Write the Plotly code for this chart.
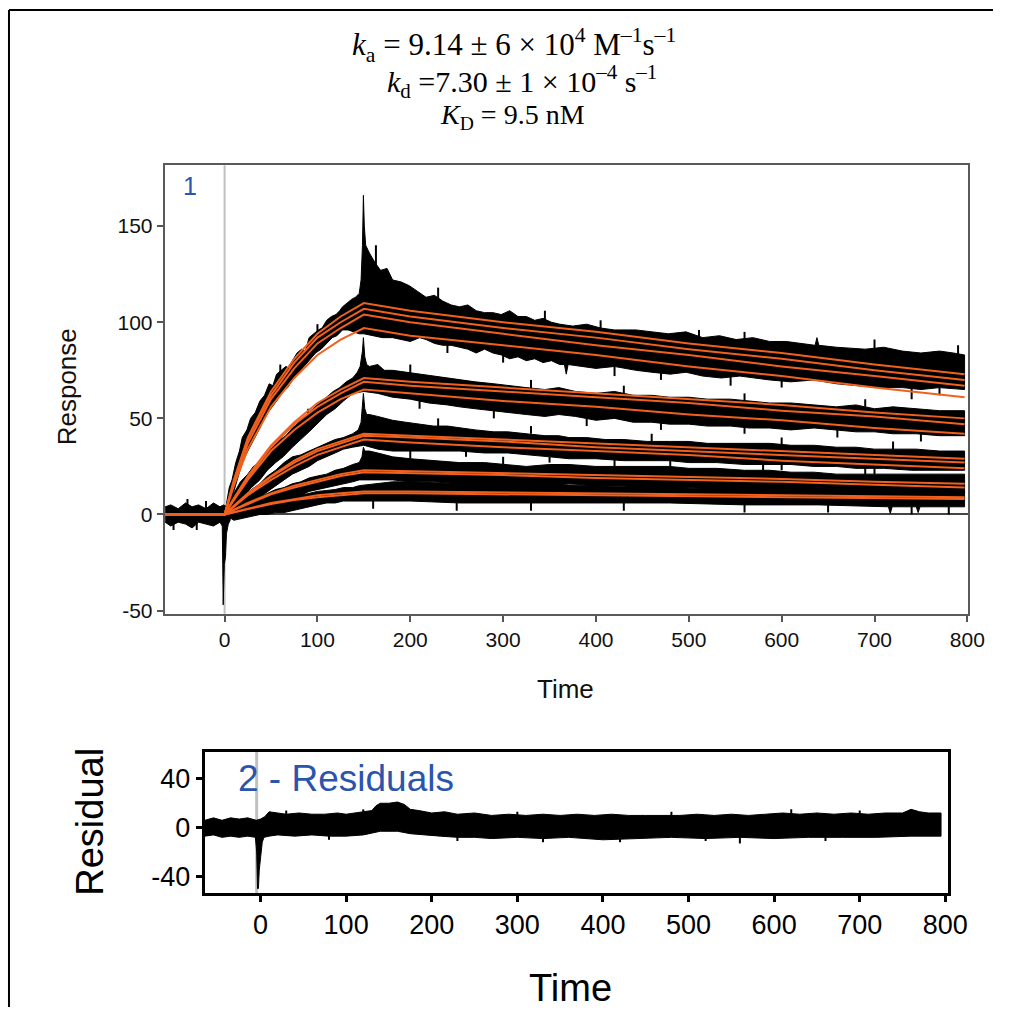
import plotly.graph_objects as go

# positions are given in pixels of the 1013 x 1015 picture and turned into paper fractions
# (the photographed area is slightly larger than the page, so positions are stretched a bit)
W, H = 1013, 1015
SX, SY = 1 / 0.982, 1 / 0.991
def px(x): return min(1.0, x * SX / W)
def py(y): return max(0.0, 1 - y * SY / H)

# ---------------- data ----------------
fit_time = [-64, 0, 10, 25, 50, 75, 100, 125, 150, 200, 300, 400, 500, 600, 700, 797]
fit_A1 = [0, 0, 18, 40, 64, 81, 94, 103, 110, 106, 100, 95, 89, 84, 78, 73]
fit_A2 = [0, 0, 17, 39, 62, 79, 92, 100, 107, 103, 97, 92, 86, 81, 75, 70]
fit_A3 = [0, 0, 16, 37, 60, 76, 89, 97, 104, 100, 94, 88, 83, 77, 72, 67]
fit_A4 = [0, 0, 15, 34, 56, 71, 83, 91, 97, 93, 88, 83, 77, 72, 66, 61]
fit_B1 = [0, 0, 8.5, 20, 36, 48, 58, 65, 71, 69, 66, 63, 60, 57, 53, 50]
fit_B2 = [0, 0, 8, 19, 35, 47, 56, 63, 69, 67, 64, 61, 58, 54, 51, 47]
fit_B3 = [0, 0, 7.5, 18, 33, 44, 53, 60, 65, 63, 59, 56, 52, 49, 45, 42]
fit_C1 = [0, 0, 4.5, 11, 20, 28, 34, 38, 42, 41, 39, 37, 35, 33, 31, 29]
fit_C2 = [0, 0, 4.3, 10.5, 19.5, 27, 33, 37, 41, 40, 38, 35, 33, 31, 29, 27]
fit_C3 = [0, 0, 4, 10, 18, 25, 31, 35, 39, 37.5, 35, 33, 31, 28, 26, 24]
fit_D1 = [0, 0, 2.5, 6, 11, 15, 18, 21, 23, 22.5, 21.5, 20.5, 19.5, 18.5, 17, 16]
fit_D2 = [0, 0, 2.3, 5.5, 10.5, 14, 17, 20, 22, 21.5, 20.5, 19, 18, 17, 15.5, 14]
fit_E1 = [0, 0, 1.2, 3, 6, 8, 10, 11, 12, 12, 11.5, 11, 10.5, 10, 9.5, 9]
fit_E2 = [0, 0, 1.1, 2.8, 5.5, 7.5, 9, 10, 11, 11, 10.5, 10, 9.5, 9, 8.5, 8]
fits = [fit_A1, fit_A2, fit_A3, fit_A4, fit_B1, fit_B2, fit_B3,
        fit_C1, fit_C2, fit_C3, fit_D1, fit_D2, fit_E1, fit_E2]

# envelopes of the noisy measured traces (time, response)
baseline_upper = [(-64, 4), (-58, 5), (-50, 3), (-42, 6), (-35, 4), (-28, 5), (-20, 3), (-12, 6),
                  (-5, 4), (-1, 5), (2, 4), (6, 3)]
baseline_lower = [(-64, -4), (-58, -6), (-50, -4), (-42, -5), (-35, -7), (-28, -4), (-20, -5),
                  (-12, -6), (-5, -4), (-2.5, -6), (-2, -26), (-1.5, -47), (-0.8, -47), (-0.3, -26),
                  (1, -22), (2, -10), (4, -5), (6, -3)]

A_upper = [(0, 0), (3, 10), (5, 14), (8, 18), (12, 27), (16, 33), (19, 40), (24, 44), (28, 50), (33, 53),
           (38, 59), (43, 62), (48, 68), (52, 67), (56, 73), (61, 75), (66, 77), (70, 76), (73, 80),
           (78, 84), (83, 86), (87, 85), (91, 92), (96, 94), (101, 96), (105, 97), (110, 101), (115, 103),
           (120, 104), (124, 106), (127, 108), (132, 110), (137, 112), (141, 113), (145, 115), (147, 122),
           (148.5, 140), (149.5, 166), (150.5, 150), (152, 140), (156, 136), (162, 131), (168, 127),
           (175, 128), (181, 122), (190, 121), (199, 119), (208, 116), (217, 113), (226, 114), (235, 111),
           (244, 109), (253, 108), (262, 109), (271, 106), (280, 105), (289, 105), (298, 104), (307, 106),
           (316, 103), (325, 103), (334, 101), (343, 102), (352, 100), (361, 99), (375, 98), (390, 99),
           (405, 97), (420, 96), (443, 96), (460, 95), (478, 94), (497, 95), (515, 92), (533, 93),
           (551, 91), (569, 92), (587, 90), (605, 90), (623, 89), (636, 88), (638, 92), (640, 88),
           (659, 87), (690, 86), (710, 87), (730, 85), (750, 84), (770, 85), (785, 84), (797, 83)]
A_lower = [(0, 0), (5, 4), (10, 12), (15, 20), (19, 27), (25, 33), (30, 38), (38, 45), (45, 52), (50, 55),
           (56, 59), (63, 64), (68, 66), (73, 70), (80, 74), (86, 77), (91, 80), (98, 84), (104, 86),
           (110, 89), (116, 92), (121, 93), (127, 96), (133, 96), (139, 95), (145, 94), (150, 94),
           (160, 93), (170, 92), (181, 92), (190, 91), (200, 90), (210, 92), (217, 91), (226, 89),
           (235, 88), (244, 88), (253, 87), (262, 86), (271, 84), (280, 86), (289, 84), (298, 83),
           (307, 81), (316, 82), (325, 80), (334, 81), (343, 79), (352, 80), (361, 78), (366, 78),
           (368, 73), (370, 78), (385, 77), (400, 76), (420, 77), (443, 75), (460, 74), (480, 73),
           (497, 74), (515, 72), (535, 71), (555, 72), (570, 71), (587, 70), (610, 69), (635, 70),
           (659, 68), (680, 67), (705, 66), (730, 66), (750, 65), (770, 66), (797, 65)]

B_upper = [(0, 0), (5, 7), (10, 11), (17, 17), (25, 21), (31, 25), (38, 27), (45, 32), (52, 35), (60, 39),
           (66, 41), (73, 45), (80, 48), (87, 51), (95, 55), (102, 58), (110, 61), (117, 64), (124, 66),
           (131, 69), (138, 71), (143, 74), (146, 77), (148.5, 85), (149.5, 92), (151, 82), (153, 78),
           (156, 77), (165, 78), (172, 75), (181, 75), (195, 74), (210, 73), (225, 72), (240, 71),
           (253, 70), (270, 69), (290, 68), (305, 67), (325, 66), (345, 65), (360, 66), (378, 64),
           (400, 63), (420, 64), (440, 62), (460, 62), (479, 61), (500, 61), (520, 60), (545, 60),
           (565, 59), (587, 58), (610, 58), (635, 57), (659, 56), (680, 57), (700, 55), (720, 56),
           (745, 55), (770, 54), (797, 54)]
B_lower = [(0, 0), (5, 0), (12, 6), (20, 10), (29, 14), (38, 18), (46, 23), (55, 27), (63, 30), (73, 35),
           (82, 39), (91, 43), (100, 47), (110, 52), (119, 55), (128, 59), (138, 63), (150, 64),
           (165, 63), (181, 61), (200, 60), (220, 58), (240, 57), (253, 56), (270, 55), (290, 54),
           (305, 53), (325, 52), (345, 51), (360, 52), (378, 51), (400, 49), (420, 50), (440, 48),
           (460, 48), (479, 47), (500, 47), (520, 46), (545, 46), (565, 45), (587, 45), (610, 44),
           (635, 45), (659, 44), (680, 43), (700, 43), (720, 42), (745, 42), (770, 41), (797, 41)]

C_upper = [(0, 0), (5, 4), (12, 7), (20, 10), (29, 13), (38, 16), (46, 20), (55, 23), (64, 27), (73, 30),
           (82, 31), (91, 33), (100, 35), (110, 37), (119, 39), (128, 40), (138, 42), (144, 44),
           (147, 48), (149.5, 63), (151, 55), (153, 52), (156, 52), (165, 51), (172, 50), (181, 49),
           (195, 48), (210, 47), (225, 46), (240, 46), (253, 45), (270, 44), (290, 43), (305, 43),
           (325, 42), (345, 41), (360, 41), (371, 40), (390, 40), (410, 39), (430, 39), (455, 38),
           (479, 38), (500, 38), (520, 37), (545, 37), (565, 37), (587, 37), (610, 36), (635, 36),
           (659, 35), (680, 35), (700, 34), (720, 34), (745, 34), (770, 33), (797, 33)]
C_lower = [(0, 0), (5, 0), (12, 2), (20, 4), (29, 6), (38, 9), (46, 12), (55, 15), (64, 18), (73, 21),
           (82, 23), (91, 25), (100, 28), (110, 30), (119, 32), (128, 34), (138, 35), (150, 36),
           (165, 34), (181, 33), (200, 33), (225, 33), (253, 33), (280, 32), (305, 32), (325, 31),
           (350, 30), (371, 29), (400, 29), (430, 28), (455, 28), (479, 28), (500, 27), (530, 27),
           (560, 26), (587, 26), (610, 26), (635, 25), (659, 25), (680, 24), (710, 24), (740, 23),
           (770, 23), (797, 23)]

D_upper = [(0, 0), (10, 3), (20, 5), (29, 7), (38, 9), (46, 11), (55, 13), (64, 14), (73, 16), (82, 17),
           (91, 19), (100, 20), (110, 21), (119, 23), (128, 24), (138, 26), (145, 27), (148, 30),
           (149.5, 35), (151, 33), (156, 33), (165, 32), (181, 30), (200, 29), (225, 28), (253, 27),
           (280, 27), (305, 26), (325, 25), (350, 26), (371, 26), (400, 25), (430, 25), (455, 25),
           (479, 25), (500, 24), (530, 24), (560, 23), (587, 23), (610, 22), (635, 22), (659, 21),
           (680, 21), (710, 21), (740, 21), (770, 21), (797, 21)]
D_lower = [(0, 0), (10, 0), (20, 1), (29, 2), (38, 4), (46, 5), (55, 7), (64, 8), (73, 9), (82, 10),
           (91, 12), (100, 13), (110, 14), (119, 15), (128, 16), (138, 17), (145, 18), (165, 18),
           (181, 18), (200, 17), (225, 17), (253, 16), (280, 15), (305, 15), (325, 14), (350, 15),
           (371, 16), (400, 15), (430, 15), (455, 14), (479, 14), (500, 14), (530, 13), (560, 13),
           (587, 12.5), (610, 13), (635, 12.5), (659, 12.5), (680, 12), (710, 12), (740, 11.5),
           (770, 11), (797, 11)]

E_upper = [(0, 0), (10, 1.5), (20, 3), (29, 4), (38, 5), (46, 6), (55, 7), (64, 8), (73, 9), (82, 10),
           (91, 11), (100, 12), (110, 12.5), (119, 13), (128, 14), (138, 14), (145, 15), (165, 16),
           (181, 17), (200, 17), (253, 16), (300, 16), (325, 16), (400, 15), (479, 14), (560, 13),
           (640, 13), (720, 12), (797, 12)]
E_lower = [(0, 0), (10, -3), (20, -2), (29, -1), (38, 0), (46, 0), (55, 1), (64, 1), (73, 2), (82, 3),
           (91, 4), (100, 5), (110, 6), (119, 6), (128, 7), (138, 7), (145, 7), (165, 7), (181, 7),
           (200, 7), (253, 6), (300, 6), (325, 6), (400, 6), (479, 6), (560, 5), (640, 5), (715, 4),
           (717, 0.5), (719, 4), (745, 4), (747, 1), (749, 4), (797, 4)]

# noise outliers sticking out of the bands: (time, low, high)
sensor_spikes = [(-55, -8, -4), (-40, 4, 8), (-30, -8, -4), (-20, 3, 7), (60, 72, 78), (90, 50, 55),
                 (100, 94, 99), (163, 128, 140), (230, 112, 118), (345, 100, 106), (405, 96, 101),
                 (511, 91, 96), (560, 90, 95), (700, 86, 91), (790, 82, 88),
                 (240, 84, 89), (300, 79, 84), (420, 72, 77), (470, 70, 74), (545, 67, 72),
                 (600, 66, 70), (740, 60, 66), (770, 62, 66),
                 (200, 73, 78), (330, 65, 70), (430, 62, 67), (560, 59, 63), (690, 56, 60),
                 (210, 55, 60), (290, 50, 54), (390, 46, 50), (470, 44, 48), (560, 42, 46),
                 (660, 40, 44), (750, 38, 42),
                 (230, 45, 50), (330, 42, 46), (460, 38, 42), (600, 36, 40), (720, 34, 38),
                 (260, 30, 33), (350, 27, 30), (480, 25, 28), (600, 23, 26), (700, 21, 24),
                 (200, 29, 33), (300, 26, 30), (420, 25, 29), (580, 23, 27), (690, 21, 25),
                 (160, 3, 7), (250, 2, 6), (330, 2, 6), (430, 2, 6), (560, 1, 5), (650, 1, 5),
                 (740, 0, 4), (780, 0, 4)]

resid_upper = [(-65, 6), (-55, 8), (-45, 6), (-35, 8), (-25, 7), (-15, 8), (-5, 6), (0, 7), (5, 9),
               (10, 13), (20, 12), (30, 11), (45, 12), (60, 11), (75, 11), (90, 12), (100, 11),
               (110, 12), (120, 13), (130, 14), (135, 18), (140, 20), (150, 20), (160, 21), (168, 19),
               (175, 15), (185, 14), (200, 12), (215, 13), (230, 11), (250, 12), (270, 10), (290, 11),
               (310, 10), (330, 11), (350, 10), (370, 11), (390, 10), (410, 11), (430, 10), (450, 10),
               (470, 10), (490, 10), (510, 11), (530, 10), (550, 11), (570, 10), (590, 11), (610, 12),
               (630, 11), (650, 12), (670, 11), (690, 12), (710, 11), (730, 12), (750, 12), (760, 15),
               (770, 13), (780, 12), (795, 12)]
resid_lower = [(-65, -7), (-55, -6), (-45, -8), (-35, -7), (-25, -8), (-15, -7), (-6, -8), (-4.5, -20),
               (-3.5, -50), (-2.5, -50), (-1.5, -35), (0, -25), (1, -20), (2, -12), (4, -8), (10, -7),
               (20, -6), (40, -7), (60, -6), (80, -7), (100, -7), (120, -6), (140, -3), (160, -3),
               (175, -5), (190, -6), (210, -7), (230, -8), (250, -8), (270, -9), (300, -8), (330, -9),
               (360, -8), (400, -10), (440, -9), (480, -8), (520, -9), (560, -8), (600, -9), (640, -8),
               (680, -8), (720, -8), (760, -7), (795, -7)]
resid_spikes = [(30, 10, 14), (120, 12, 15), (300, 10, 13), (480, 10, 13), (620, 11, 15), (700, 11, 14),
                (80, -10, -6), (230, -11, -7), (330, -12, -8), (420, -12, -9), (520, -11, -8),
                (560, -13, -8), (660, -11, -8)]

main_xticks = [0, 100, 200, 300, 400, 500, 600, 700, 800]
main_yticks = [-50, 0, 50, 100, 150]
main_ytext = ["-50", "0", "50", "100", "150"]
resid_yticks = [-40, 0, 40]
resid_ytext = ["-40", "0", "40"]

ORANGE = "#F0601E"
BLUE = "#2B55AC"

fig = go.Figure()

def band(upper, lower, xa="x", ya="y"):
    x = [p[0] for p in upper] + [p[0] for p in lower][::-1]
    y = [p[1] for p in upper] + [p[1] for p in lower][::-1]
    fig.add_trace(go.Scatter(x=x, y=y, mode="lines", fill="toself", fillcolor="black",
                             line=dict(color="black", width=1), xaxis=xa, yaxis=ya,
                             hoverinfo="skip", showlegend=False))

def spikes(items, xa="x", ya="y"):
    x, y = [], []
    for t, lo, hi in items:
        x += [t, t, None]
        y += [lo, hi, None]
    fig.add_trace(go.Scatter(x=x, y=y, mode="lines", line=dict(color="black", width=2),
                             xaxis=xa, yaxis=ya, hoverinfo="skip", showlegend=False))

band(baseline_upper, baseline_lower)
band(A_upper, A_lower)
band(B_upper, B_lower)
band(C_upper, C_lower)
band(D_upper, D_lower)
band(E_upper, E_lower)
spikes(sensor_spikes)

for f in fits:
    fig.add_trace(go.Scatter(x=fit_time, y=f, mode="lines", line=dict(color=ORANGE, width=2),
                             hoverinfo="skip", showlegend=False))

band(resid_upper, resid_lower, "x2", "y2")
spikes(resid_spikes, "x2", "y2")

# ---------------- layout ----------------
main_x0, main_x1, main_y0, main_y1 = 165, 970, 165, 613
res_x0, res_x1, res_y0, res_y1 = 205, 950, 751, 892

tickfont_main = dict(family="Liberation Sans, Arial, sans-serif", size=21, color="#111")
tickfont_res = dict(family="Liberation Sans, Arial, sans-serif", size=27, color="#000")

fig.update_layout(
    autosize=True, margin=dict(l=0, r=0, t=0, b=0),
    paper_bgcolor="white", plot_bgcolor="white", showlegend=False,
    xaxis=dict(domain=[px(main_x0), px(main_x1)], range=[-64.5, 801], anchor="y",
               tickvals=main_xticks, ticks="outside", ticklen=6, tickwidth=2, tickcolor="#555",
               showline=True, linecolor="#5a5a5a", linewidth=2, mirror=True, showgrid=False,
               zeroline=False, tickfont=tickfont_main),
    yaxis=dict(domain=[py(main_y1), py(main_y0)], range=[-51.6, 181.7], anchor="x",
               tickvals=main_yticks, ticktext=main_ytext, ticks="outside", ticklen=6, tickwidth=2,
               tickcolor="#555", showline=True, linecolor="#5a5a5a", linewidth=2, mirror=True,
               showgrid=False, zeroline=True, zerolinecolor="#444", zerolinewidth=2,
               tickfont=tickfont_main),
    xaxis2=dict(domain=[px(res_x0), px(res_x1)], range=[-65.3, 803.5], anchor="y2",
                tickvals=main_xticks, ticks="outside", ticklen=6, tickwidth=3, tickcolor="#000",
                showline=True, linecolor="#000", linewidth=3, mirror=True, showgrid=False,
                zeroline=False, tickfont=tickfont_res),
    yaxis2=dict(domain=[py(res_y1), py(res_y0)], range=[-53.7, 62.2], anchor="x2",
                tickvals=resid_yticks, ticktext=resid_ytext, ticks="outside", ticklen=6, tickwidth=3,
                tickcolor="#000", showline=True, linecolor="#000", linewidth=3, mirror=True,
                showgrid=False, zeroline=False, tickfont=tickfont_res),
)

shapes = [
    dict(type="line", xref="x", yref="paper", x0=0, x1=0, y0=py(main_y1), y1=py(main_y0),
         line=dict(color="#c0c0c0", width=2), layer="below"),
    dict(type="line", xref="x2", yref="paper", x0=-4.5, x1=-4.5, y0=py(res_y1), y1=py(res_y0),
         line=dict(color="#c0c0c0", width=3), layer="below"),
    dict(type="line", xref="paper", yref="paper", x0=px(9), x1=1, y0=py(10), y1=py(10),
         line=dict(color="black", width=2)),
    dict(type="line", xref="paper", yref="paper", x0=px(9), x1=px(9), y0=py(10), y1=0,
         line=dict(color="black", width=2)),
]
fig.update_layout(shapes=shapes)

serif = "Liberation Serif, Times New Roman, serif"
sans = "Liberation Sans, Arial, sans-serif"
annotations = [
    dict(text="<i>k</i><sub>a</sub> = 9.14 ± 6 × 10<sup>4</sup> M<sup>–1</sup>s<sup>–1</sup>",
         x=px(515), y=py(45), font=dict(family=serif, size=31, color="black")),
    dict(text="<i>k</i><sub>d</sub> =7.30 ± 1 × 10<sup>–4</sup> s<sup>–1</sup>",
         x=px(523), y=py(81), font=dict(family=serif, size=30, color="black")),
    dict(text="<i>K</i><sub>D</sub> = 9.5 nM",
         x=px(513), y=py(116), font=dict(family=serif, size=28, color="black")),
    dict(text="1", x=px(190), y=py(186), font=dict(family=sans, size=25, color=BLUE)),
    dict(text="Response", x=px(68), y=py(386), textangle=-90,
         font=dict(family=sans, size=26, color="#111")),
    dict(text="Time", x=px(567), y=py(688), font=dict(family=sans, size=26, color="#111")),
    dict(text="2 - Residuals", x=px(347), y=py(778), font=dict(family=sans, size=37, color=BLUE)),
    dict(text="Residual", x=px(90), y=py(821), textangle=-90,
         font=dict(family=sans, size=38, color="#000")),
    dict(text="Time", x=px(572), y=py(987), font=dict(family=sans, size=38, color="#000")),
]
for a in annotations:
    a.update(xref="paper", yref="paper", showarrow=False, xanchor="center", yanchor="middle")
fig.update_layout(annotations=annotations)

fit_to_window = (
    "document.documentElement.style.margin='0';document.body.style.margin='0';"
    "document.documentElement.style.overflow='hidden';document.body.style.overflow='hidden';"
    "var gd=document.getElementById('{plot_id}');"
    "gd.style.width=window.innerWidth+'px';gd.style.height=window.innerHeight+'px';"
    "Plotly.relayout(gd,{width:window.innerWidth,height:window.innerHeight});"
)
fig.write_html("out.html", config={"displayModeBar": False},
               default_width="100vw", default_height="100vh", post_script=fit_to_window)
